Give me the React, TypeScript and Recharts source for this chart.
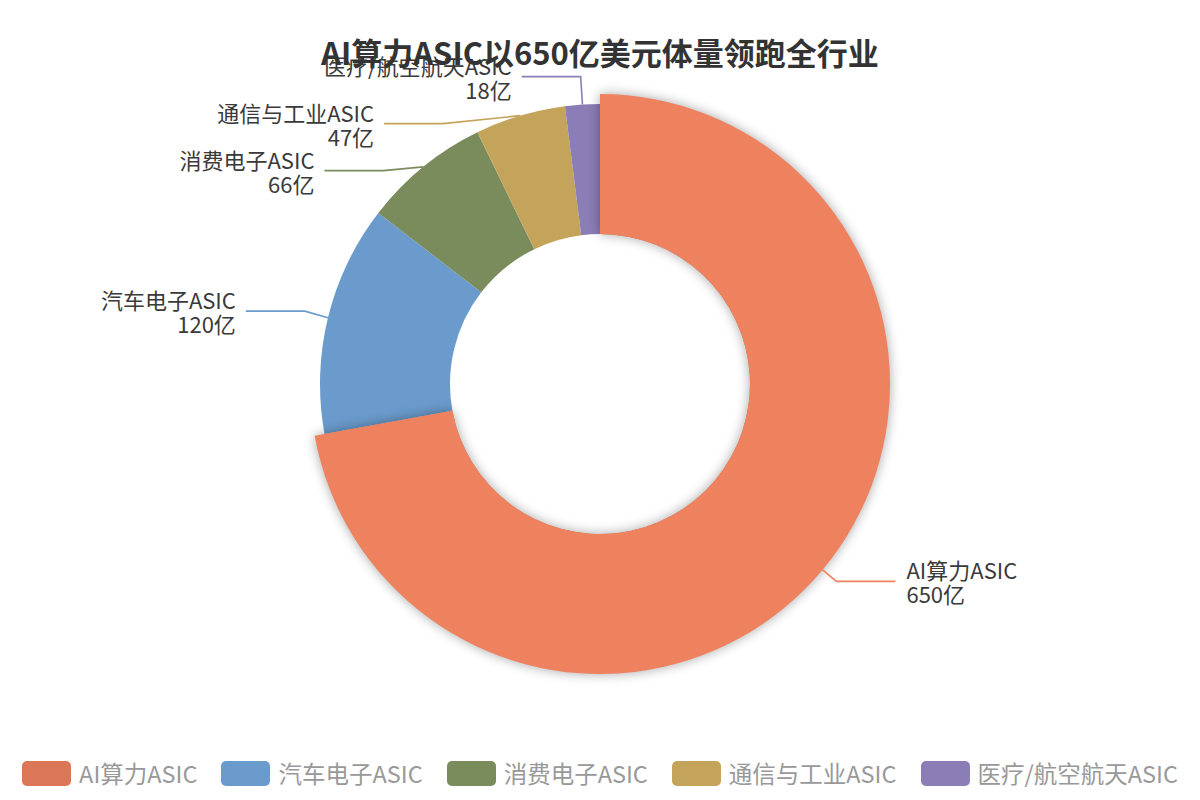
import React from 'react';
import { PieChart, Pie, Cell, Legend } from 'recharts';

const names = ['AI算力ASIC', '汽车电子ASIC', '消费电子ASIC', '通信与工业ASIC', '医疗/航空航天ASIC'];
const values = [650, 120, 66, 47, 18];
const unit = '亿';
const title = 'AI算力ASIC以650亿美元体量领跑全行业';

const sliceColors = ['#EE825F', '#6A9BCC', '#7A8B5C', '#C4A35A', '#8B7DB6'];
const legendColors = ['#DB7657', '#6A9BCC', '#7A8B5C', '#C4A35A', '#8B7DB6'];

const data = names.map((name, i) => ({ name, value: values[i] }));

const FONT = '"Noto Sans CJK SC", "Noto Sans", sans-serif';
const CX = 600;
const CY = 384;
const R_IN = 150;
const R_OUT = 280;
const ACTIVE = 0; // highlighted slice, drawn 10px bigger
const LINE1 = 28;
const LINE2 = 59;
const GAP = 47;

type LabelPos = { sx: number; sy: number; ex: number; ey: number; right: boolean };

// callout layout: radial first segment, then horizontal; stacked labels pushed apart
function layoutLabels(cx: number, cy: number, rOut: number): LabelPos[] {
  const total = values.reduce((a, b) => a + b, 0);
  const er = rOut + LINE1;
  let angle = 90;
  const out: LabelPos[] = values.map((v, i) => {
    const span = (v / total) * 360;
    const mid = ((angle - span / 2) * Math.PI) / 180;
    angle -= span;
    const r = rOut + (i === ACTIVE ? 10 : 0);
    return {
      sx: cx + r * Math.cos(mid),
      sy: cy - r * Math.sin(mid),
      ex: cx + er * Math.cos(mid),
      ey: cy - er * Math.sin(mid),
      right: Math.cos(mid) >= 0,
    };
  });
  // left column gets pushed apart and pulled onto a slightly tighter ring
  const left = out.filter((p) => !p.right).sort((a, b) => a.ey - b.ey);
  for (let k = 1; k < left.length; k++) {
    if (left[k].ey < left[k - 1].ey + GAP) left[k].ey = left[k - 1].ey + GAP;
  }
  const er2 = rOut + 24;
  left.forEach((p) => {
    const dy = p.ey - cy;
    if (Math.abs(dy) < er2) p.ex = cx - Math.sqrt(er2 * er2 - dy * dy);
  });
  return out;
}

const renderLabel = (props: any) => {
  const { cx, cy, index } = props;
  const pos = layoutLabels(cx, cy, R_OUT)[index];
  const color = sliceColors[index];
  const lx = pos.ex + (pos.right ? LINE2 : -LINE2);
  const tx = lx + (pos.right ? 11 : -10);
  return (
    <g key={`lbl-${index}`}>
      <polyline
        points={`${pos.sx},${pos.sy} ${pos.ex},${pos.ey} ${lx},${pos.ey}`}
        fill="none"
        stroke={color}
        strokeWidth={1.6}
      />
      <text
        x={tx}
        y={pos.ey}
        textAnchor={pos.right ? 'start' : 'end'}
        fill="#3a3a3a"
        fontSize={22}
        fontFamily={FONT}
      >
        <tspan x={tx} y={pos.ey - 12} dominantBaseline="central">
          {names[index]}
        </tspan>
        <tspan x={tx} y={pos.ey + 12} dominantBaseline="central">
          {values[index] + unit}
        </tspan>
      </text>
    </g>
  );
};

const renderLegend = () => (
  <div
    style={{
      display: 'flex',
      justifyContent: 'center',
      alignItems: 'center',
      fontFamily: FONT,
      fontSize: 23.5,
      color: '#999',
    }}
  >
    {names.map((n, i) => (
      <div key={n} style={{ display: 'flex', alignItems: 'center', marginRight: i < names.length - 1 ? 24 : 0 }}>
        <div
          style={{ width: 49, height: 25, borderRadius: 5, background: legendColors[i], marginRight: 8 }}
        />
        <span>{n}</span>
      </div>
    ))}
  </div>
);

export default function App() {
  return (
    <div style={{ position: 'relative', width: 1200, height: 800, background: '#fff' }}>
      <style>{'body { margin: 0; }'}</style>
      <PieChart width={1200} height={800} margin={{ top: 0, right: 0, bottom: 0, left: 0 }}>
        <Pie
          data={data}
          dataKey="value"
          nameKey="name"
          cx={CX}
          cy={CY}
          innerRadius={R_IN}
          outerRadius={R_OUT}
          startAngle={90}
          endAngle={-270}
          stroke="none"
          label={renderLabel}
          labelLine={false}
          isAnimationActive={false}
        >
          {data.map((d, i) => (
            <Cell key={d.name} fill={sliceColors[i]} />
          ))}
        </Pie>
        <Pie
          data={data}
          dataKey="value"
          nameKey="name"
          cx={CX}
          cy={CY}
          innerRadius={R_IN}
          outerRadius={R_OUT + 10}
          startAngle={90}
          endAngle={-270}
          stroke="none"
          legendType="none"
          isAnimationActive={false}
        >
          {data.map((d, i) => (
            <Cell
              key={d.name}
              fill={i === ACTIVE ? sliceColors[i] : 'transparent'}
              style={i === ACTIVE ? { filter: 'drop-shadow(0 0 6px rgba(0,0,0,0.35))' } : undefined}
            />
          ))}
        </Pie>
        <Legend
          content={renderLegend}
          verticalAlign="bottom"
          wrapperStyle={{ left: 0, width: 1200, bottom: 10 }}
        />
      </PieChart>
      <div
        style={{
          position: 'absolute',
          top: 31,
          left: 0,
          width: 1200,
          textAlign: 'center',
          fontFamily: FONT,
          fontWeight: 'bold',
          fontSize: 31,
          lineHeight: '42px',
          color: '#333',
          pointerEvents: 'none',
        }}
      >
        {title}
      </div>
    </div>
  );
}
